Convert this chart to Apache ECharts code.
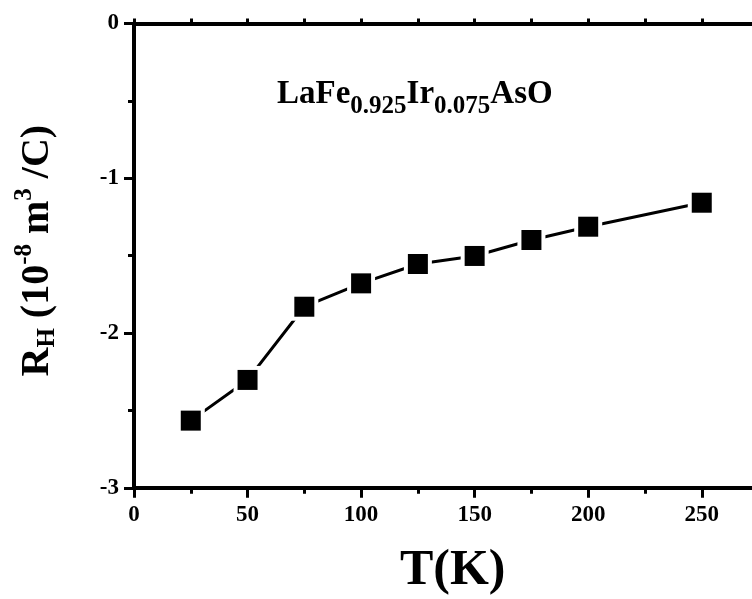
<!DOCTYPE html>
<html><head><meta charset="utf-8">
<script src="https://cdn.jsdelivr.net/npm/echarts/dist/echarts.min.js"></script>
<style>html,body{margin:0;padding:0;background:#fff}#c{width:752px;height:599px}</style>
</head><body><div id="c"></div>
<script>
// Data
const temperatures = [25, 50, 75, 100, 125, 150, 175, 200, 250];
const hallCoefficients = [-2.566, -2.303, -1.830, -1.679, -1.554, -1.502, -1.399, -1.313, -1.158];
const xLabelValues = [0, 50, 100, 150, 200, 250];
const yLabelValues = [0, -1, -2, -3];
const titleParts = ['LaFe', '0.925', 'Ir', '0.075', 'AsO'];
const xName = 'T(K)';

const FONT = '"Liberation Serif","Times New Roman",Times,serif';
const points = temperatures.map((t, i) => [t, hallCoefficients[i]]);

const chart = echarts.init(document.getElementById('c'), null, {renderer: 'canvas'});

const labelStyle = {color: '#000', fontFamily: FONT, fontWeight: 'bold', fontSize: 23};

chart.setOption({
  animation: false,
  backgroundColor: '#fff',
  title: {
    text: '{m|' + titleParts[0] + '}{s|' + titleParts[1] + '}{m|' + titleParts[2] + '}{s|' + titleParts[3] + '}{m|' + titleParts[4] + '}',
    left: 277, top: 74, padding: 0,
    textStyle: {
      rich: {
        m: {fontFamily: FONT, fontWeight: 'bold', fontSize: 33, lineHeight: 40, color: '#000'},
        s: {fontFamily: FONT, fontWeight: 'bold', fontSize: 25, lineHeight: 40, color: '#000', padding: [26, 0, 0, 0]}
      }
    }
  },
  grid: {left: 134, top: 23.5, right: -63.3, bottom: 111.2, outerBoundsMode: 'none', containLabel: false},
  xAxis: [{
    type: 'value', min: 0, max: 300, interval: 50, position: 'bottom',
    name: xName, nameLocation: 'middle', nameGap: 58, nameMoveOverlap: false,
    nameTextStyle: {color: '#000', fontFamily: FONT, fontWeight: 'bold', fontSize: 50, lineHeight: 50, padding: [0, 44, 0, 0]},
    axisLine: {show: true, onZero: false, lineStyle: {color: '#000', width: 4}},
    axisTick: {show: true, inside: false, length: 10, lineStyle: {color: '#000', width: 3}},
    minorTick: {show: true, splitNumber: 2, length: 6, lineStyle: {color: '#000', width: 3}},
    axisLabel: Object.assign({margin: 16, showMaxLabel: false,
      formatter: v => xLabelValues.indexOf(v) >= 0 ? String(v) : ''}, labelStyle),
    splitLine: {show: false}
  }, {
    type: 'value', min: 0, max: 300, interval: 25, position: 'top',
    axisLine: {show: true, onZero: false, lineStyle: {color: '#000', width: 4}},
    axisTick: {show: true, inside: false, length: 5, lineStyle: {color: '#000', width: 3}},
    axisLabel: {show: false},
    splitLine: {show: false}
  }],
  yAxis: [{
    type: 'value', min: -3, max: 0, interval: 1, position: 'left',
    name: '{m|R}{b|H}{m| (10}{p|-8}{m| m}{p|3}{m| /C)}',
    nameLocation: 'middle', nameRotate: 90, nameGap: 71, nameMoveOverlap: false,
    nameTextStyle: {
      padding: [0, 0, 0, 10],
      rich: {
        m: {fontFamily: FONT, fontWeight: 'bold', fontSize: 40, lineHeight: 50, color: '#000'},
        b: {fontFamily: FONT, fontWeight: 'bold', fontSize: 25, lineHeight: 50, color: '#000', padding: [20, 0, 0, 0]},
        p: {fontFamily: FONT, fontWeight: 'bold', fontSize: 25, lineHeight: 50, color: '#000', padding: [0, 0, 26, 0]}
      }
    },
    axisLine: {show: true, onZero: false, lineStyle: {color: '#000', width: 4}},
    axisTick: {show: true, inside: false, length: 10, lineStyle: {color: '#000', width: 3}},
    minorTick: {show: true, splitNumber: 2, length: 6, lineStyle: {color: '#000', width: 3}},
    axisLabel: Object.assign({margin: 15,
      formatter: v => yLabelValues.indexOf(v) >= 0 ? String(v) : ''}, labelStyle),
    splitLine: {show: false}
  }],
  series: [{
    type: 'line', data: points, xAxisIndex: 0, yAxisIndex: 0,
    lineStyle: {color: '#000', width: 3},
    symbol: 'rect', symbolSize: 28,
    itemStyle: {color: '#fff', borderWidth: 0, opacity: 1},
    silent: true, z: 2
  }, {
    type: 'scatter', data: points, xAxisIndex: 0, yAxisIndex: 0,
    symbol: 'rect', symbolSize: 20,
    itemStyle: {color: '#000', opacity: 1},
    silent: true, z: 3
  }]
});
</script>
</body></html>
